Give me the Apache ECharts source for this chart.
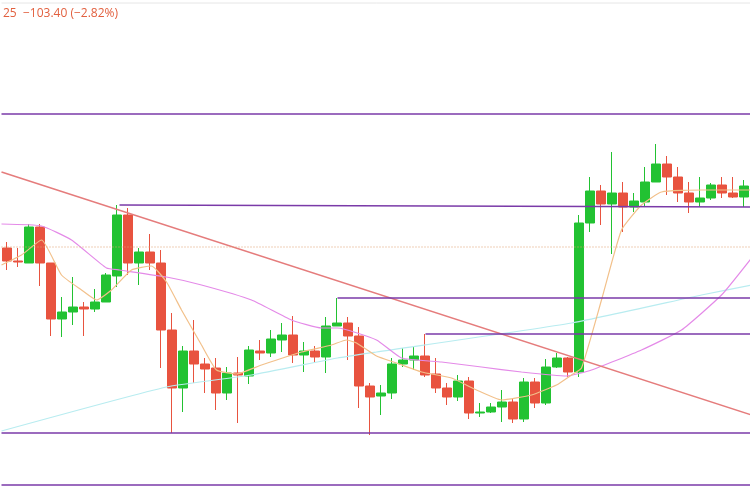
<!DOCTYPE html>
<html><head><meta charset="utf-8">
<script src="https://cdn.jsdelivr.net/npm/echarts@6/dist/echarts.min.js"></script>
<style>html,body{margin:0;padding:0;background:#fff}#c{width:750px;height:500px}</style>
</head><body><div id="c"></div>
<script>
// candles in screen-like price units: [top of body, bottom of body, wick top, wick bottom, up?]
const candlesPx = [
[248,261,242,270,0],[261,262,248,267,0],[227,263,224,263,1],[227,263,224,286,0],[263,319,263,336,0],
[312,319,297,337,1],[307,312,277,325,1],[307,309,302,336,0],[302,309,289,312,1],[275,302,273,302,1],
[215,276,205,287,1],[215,263,208,275,0],[252,263,248,285,1],[252,263,234,270,0],[263,330,250,368,0],
[330,388,313,433,0],[351,388,346,412,1],[351,364,320,383,0],[364,369,358,393,0],[368,393,358,410,0],
[373,393,367,400,1],[373,375,357,423,0],[350,376,346,384,1],[351,353,340,360,0],[339,353,330,357,1],
[335,340,323,352,1],[335,355,316,363,0],[351,355,342,372,1],[351,357,346,363,0],[326,357,317,373,1],
[323,326,298,326,1],[323,336,317,360,0],[336,386,327,408,0],[386,397,383,435,0],[393,396,385,415,1],
[364,393,358,399,1],[360,364,348,367,1],[356,360,347,370,1],[356,375,334,377,0],[374,388,358,393,0],
[388,397,383,405,0],[381,397,375,401,1],[381,413,377,419,0],[412,413,403,417,1],[407,412,403,413,1],
[402,407,390,422,1],[402,419,398,423,0],[382,419,378,422,1],[382,403,378,408,0],[367,403,359,405,1],
[358,367,353,368,1],[358,372,357,377,0],[223,372,215,377,1],[191,223,177,232,1],[191,204,185,225,0],
[193,204,152,254,1],[193,207,182,232,0],[201,207,193,212,1],[182,202,167,207,1],[164,182,144,182,1],
[164,177,156,195,0],[177,193,167,202,0],[193,202,182,213,0],[198,202,177,207,1],[185,198,183,200,1],
[185,193,177,198,0],[193,197,177,198,0],[186,197,180,207,1]
];
const H = 500;
const categories = candlesPx.map((_, i) => 'D' + (i + 1));
const ohlc = candlesPx.map(c => {
  const top = H - c[0], bot = H - c[1], hi = H - c[2], lo = H - c[3];
  return c[4] ? [bot, top, lo, hi] : [top, bot, lo, hi];
});
const maFast = [[0,265],[20,255],[40,240],[60,275],[80,290],[95,300],[110,290],[130,270],[150,266],[165,282],[180,310],[200,345],[215,370],[235,374],[260,365],[300,352],[330,345],[345,340],[355,343],[375,356],[395,363],[420,372],[450,378],[475,390],[500,400],[530,395],[555,385],[570,375],[580,368],[600,300],[620,230],[640,205],[660,192],[700,190],[750,190]];
const maMid = [[0,224],[40,226],[70,240],[105,268],[118,270],[165,277],[200,285],[250,300],[290,320],[320,328],[336,328],[375,340],[400,358],[440,362],[480,367],[520,372],[565,376],[590,370],[640,350],[680,330],[720,295],[750,258]];
const maSlow = [[0,431],[165,387],[250,375],[336,358],[375,352],[570,323],[700,295],[750,285]];
const trend = [[0,172],[750,415]];
const levelsFull = [114,433,485];
const levelsFrom = [[118,205,207],[336,298,298],[424,334,334]]; // x start, tick top, level
const dotted = 247;

const toV = p => [p[0], H - p[1]];
const series = [{
  type:'candlestick', xAxisIndex:0, yAxisIndex:0, data: ohlc, barWidth: 9,
  itemStyle:{color:'#22c232', color0:'#e8533f', borderColor:'#22c232', borderColor0:'#e8533f', borderWidth:1}
}];
const line = (data, color, w, extra) => Object.assign({type:'line', xAxisIndex:1, yAxisIndex:0, data: data.map(toV), symbol:'none', silent:true, smooth:0.15, lineStyle:{color, width:w}}, extra||{});
series.push(line(maSlow,'#b8ecf0',1.2));
series.push(line(maMid,'#e48ae8',1.2));
series.push(line(maFast,'#f2c08a',1.2));
series.push(line(trend,'#e57c7c',1.5,{smooth:false}));
levelsFull.forEach(y => series.push(line([[0,y],[750,y]],'#7a3aa8',1.4,{smooth:false})));
levelsFrom.forEach(l => series.push(line([[l[0],l[1]],[l[0],l[2]],[750,l[2]]],'#7a3aa8',1.4,{smooth:false})));
series.push(line([[0,dotted],[750,dotted]],'#e0a070',1,{smooth:false, lineStyle:{color:'#e0a070',width:1.2,type:[1,2]}}));
series.push(line([[0,3],[750,3]],'#e6e6e6',1,{smooth:false}));

const chart = echarts.init(document.getElementById('c'));
chart.setOption({
  animation:false,
  grid:{left:1.5,right:0.5,top:0,bottom:0},
  xAxis:[{type:'category',data:categories,boundaryGap:true,show:false},
         {type:'value',min:0,max:748,show:false}],
  yAxis:{type:'value',min:0,max:500,show:false},
  graphic:[{type:'text',left:3,top:8,style:{text:'25  −103.40 (−2.82%)',fill:'#e2603f',font:'12px "Open Sans", sans-serif'}}],
  series
});
</script></body></html>
